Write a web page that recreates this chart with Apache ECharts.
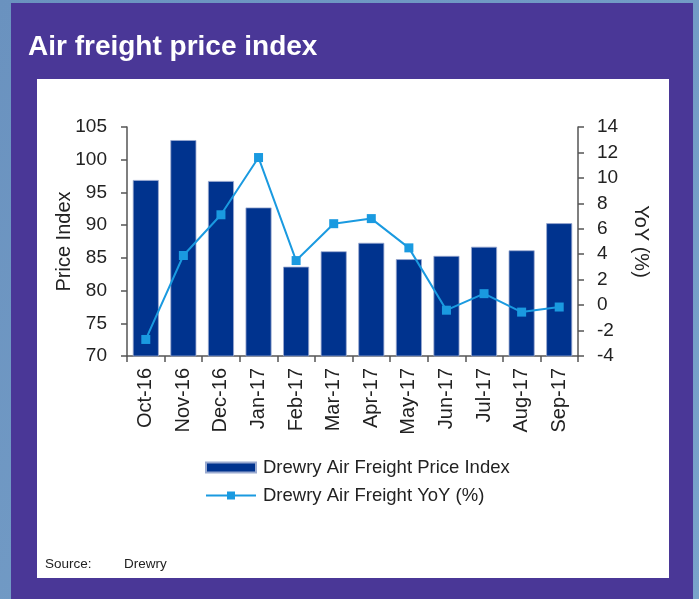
<!DOCTYPE html>
<html>
<head>
<meta charset="utf-8">
<script src="https://cdn.jsdelivr.net/npm/echarts@6/dist/echarts.min.js"></script>
<style>
html,body{margin:0;padding:0;background:#6990bd;}
#c{width:699px;height:599px;}
</style>
</head>
<body>
<div id="c"></div>
<script>
const categories = ['Oct-16','Nov-16','Dec-16','Jan-17','Feb-17','Mar-17','Apr-17','May-17','Jun-17','Jul-17','Aug-17','Sep-17'];
const priceIndex = [96.9, 103.0, 96.75, 92.7, 83.65, 86.0, 87.3, 84.8, 85.3, 86.7, 86.15, 90.3];
const yoy = [-2.7, 3.9, 7.1, 11.6, 3.5, 6.4, 6.8, 4.5, -0.4, 0.9, -0.55, -0.15];
const leftTicks = {min: 70, max: 105, interval: 5};
const rightTicks = {min: -4, max: 14, interval: 2};

const FONT = '"Liberation Sans", Arial, Helvetica, sans-serif';
const chart = echarts.init(document.getElementById('c'), null, {renderer: 'canvas'});
chart.setOption({
  backgroundColor: {
    type: 'linear', x: 0, y: 0, x2: 1, y2: 1,
    colorStops: [{offset: 0, color: '#6a92bf'}, {offset: 1, color: '#79a3cb'}]
  },
  animation: false,
  textStyle: {fontFamily: FONT},
  graphic: [
    {type: 'rect', z: -10, shape: {x: 11, y: 3, width: 682, height: 600}, style: {fill: '#4a3797'}},
    {type: 'rect', z: -9, shape: {x: 37, y: 79, width: 632, height: 499}, style: {fill: '#ffffff'}},
    {type: 'text', z: 5, left: 28, top: 33, style: {text: 'Air freight price index', fill: '#ffffff', font: 'bold 28px ' + FONT}},
    {type: 'text', z: 5, left: 45, top: 557, style: {text: 'Source:', fill: '#222222', font: '13.5px ' + FONT}},
    {type: 'text', z: 5, left: 124, top: 557, style: {text: 'Drewry', fill: '#222222', font: '13.5px ' + FONT}}
  ],
  grid: {left: 127, right: 121, top: 127, bottom: 243, containLabel: false},
  legend: {
    orient: 'vertical', left: 200, top: 453, itemWidth: 50, itemHeight: 10, itemGap: 9,
    textStyle: {fontSize: 18.5, color: '#222', fontFamily: FONT, padding: [0, 0, 0, 2]},
    data: [
      {name: 'Drewry Air Freight Price Index', icon: 'rect'},
      {name: 'Drewry Air Freight YoY (%)'}
    ]
  },
  xAxis: {
    type: 'category', data: categories, boundaryGap: true,
    axisLine: {onZero: false, lineStyle: {color: '#555', width: 1.5}},
    axisTick: {show: true, length: 6, lineStyle: {color: '#555', width: 1.5}},
    axisLabel: {rotate: 90, fontSize: 20, color: '#222', margin: 12, fontFamily: FONT, interval: 0}
  },
  yAxis: [
    {
      type: 'value', position: 'left', min: leftTicks.min, max: leftTicks.max, interval: leftTicks.interval,
      name: 'Price Index', nameLocation: 'middle', nameGap: 53, nameRotate: 90, nameMoveOverlap: false,
      nameTextStyle: {fontSize: 20, color: '#222', fontFamily: FONT},
      axisLine: {show: true, lineStyle: {color: '#555', width: 1.5}},
      axisTick: {show: true, length: 6, lineStyle: {color: '#555', width: 1.5}},
      splitLine: {show: false},
      axisLabel: {fontSize: 19, color: '#222', margin: 20, fontFamily: FONT}
    },
    {
      type: 'value', position: 'right', min: rightTicks.min, max: rightTicks.max, interval: rightTicks.interval,
      name: 'YoY (%)', nameLocation: 'middle', nameGap: 53, nameRotate: -90, nameMoveOverlap: false,
      nameTextStyle: {fontSize: 20, color: '#222', fontFamily: FONT},
      axisLine: {show: true, lineStyle: {color: '#555', width: 1.5}},
      axisTick: {show: true, length: 6, lineStyle: {color: '#555', width: 1.5}},
      splitLine: {show: false},
      axisLabel: {fontSize: 19, color: '#222', margin: 19, fontFamily: FONT}
    }
  ],
  series: [
    {
      name: 'Drewry Air Freight Price Index', type: 'bar', yAxisIndex: 0, data: priceIndex,
      barWidth: 26,
      itemStyle: {color: '#00338e', borderColor: '#9aaad0', borderWidth: 0.8}
    },
    {
      name: 'Drewry Air Freight YoY (%)', type: 'line', yAxisIndex: 1, data: yoy,
      symbol: 'rect', symbolSize: 9,
      lineStyle: {color: '#1a9ae0', width: 2},
      itemStyle: {color: '#1a9ae0'}
    }
  ]
});
</script>
</body>
</html>
